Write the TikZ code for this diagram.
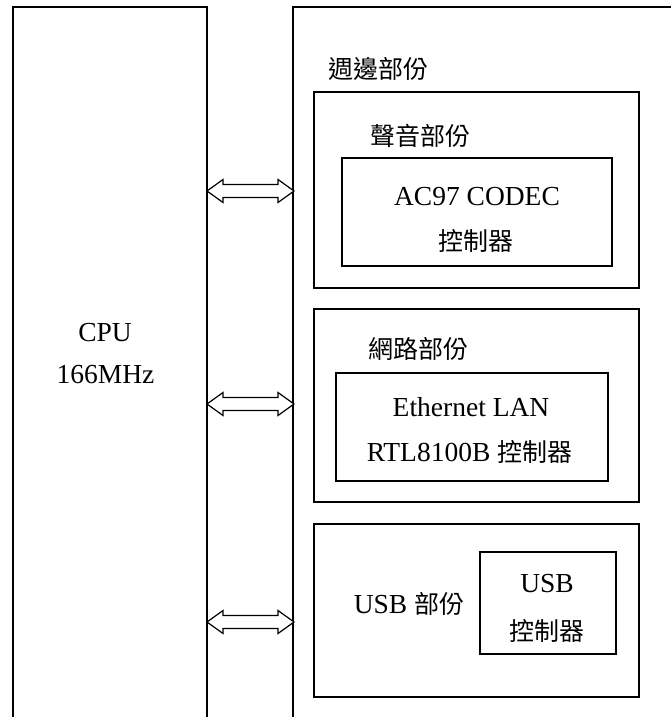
\documentclass[tikz,border=0pt]{standalone}
\usepackage{fontspec}
\usetikzlibrary{calc}
\setmainfont{Liberation Serif}
\newfontfamily\cjk{Noto Sans CJK TC}
\begin{document}
\begin{tikzpicture}[x=1pt,y=-1pt,
  wire/.style={line width=1.3pt},
  blockbox/.style={draw, line width=1.3pt, inner sep=0pt, rectangle},
  lat/.style={font=\fontsize{27.5}{30}\selectfont, inner sep=0pt, anchor=base},
  han/.style={font=\fontsize{25}{30}\selectfont\cjk, inner sep=0pt, anchor=base},
  busarrow/.style={draw, line width=1.2pt, fill=white, line join=miter}]
\useasboundingbox (0,0) rectangle (670,717);

% CPU column and peripheral frame, both running off the page
\draw[wire] (13,717) -- (13,7) -- (207,7) -- (207,717);
\draw[wire] (293,717) -- (293,7) -- (675,7);
\coordinate (cpuR) at (207,0);
\coordinate (perL) at (294,0);

\node[lat] (cpu) at (105,341) {CPU};
\node[lat] (mhz) at (105.5,383) {166MHz};

\node[han, anchor=base west] (per) at (328,78) {週邊部份};

% sound block
\node[blockbox, minimum width=325pt, minimum height=196pt] (snd) at (476.5,190) {};
\node[blockbox, minimum width=270pt, minimum height=108pt] (ac97) at (477,212) {};
\node[han] (sndt) at (420.5,145) {聲音部份};
\node[lat] (ac97a) at (477,205) {AC97 CODEC};
\node[han] (ac97b) at (476,250) {控制器};

% network block
\node[blockbox, minimum width=325pt, minimum height=193pt] (net) at (476.5,405.5) {};
\node[blockbox, minimum width=272pt, minimum height=108pt] (eth) at (472,427) {};
\node[han] (nett) at (418,358) {網路部份};
\node[lat] (etha) at (471,416) {Ethernet LAN};
\node[lat] (ethb) at (469.5,461) {RTL8100B {\fontsize{25}{30}\selectfont\cjk 控制器}};

% USB block
\node[blockbox, minimum width=325pt, minimum height=173pt] (usb) at (476.5,610.5) {};
\node[blockbox, minimum width=136pt, minimum height=102pt] (usbc) at (548,603) {};
\node[lat] (usbt) at (409,613) {USB {\fontsize{25}{30}\selectfont\cjk 部份}};
\node[lat] (usbca) at (547,592) {USB};
\node[han] (usbcb) at (547,640) {控制器};

% hollow double-headed bus arrows between CPU and peripherals
\foreach \yy/\nm in {191/a1, 404/a2, 622/a3}{
  \coordinate (\nm L) at (cpuR |- 0,\yy);
  \coordinate (\nm R) at (perL |- 0,\yy);
  \draw[busarrow] (\nm L) -- ++(16,-11.5) -- ++(0,5) -- ($(\nm R)+(-16,-6.5)$)
    -- ++(0,-5) -- (\nm R) -- ++(-16,11.5) -- ++(0,-5)
    -- ($(\nm L)+(16,6.5)$) -- ++(0,5) -- cycle;
}
\end{tikzpicture}
\end{document}
